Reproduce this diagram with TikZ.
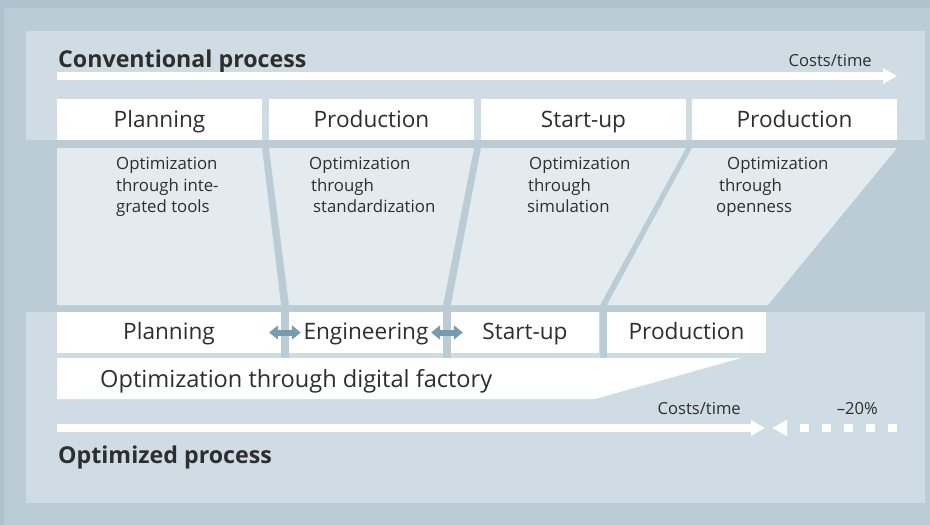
\documentclass[tikz,border=0pt]{standalone}
\usepackage{fontspec}
\setmainfont{Open Sans}
\usetikzlibrary{arrows.meta}

\definecolor{frameblue}{HTML}{AFC3CE}
\definecolor{bandblue}{HTML}{BBCCD6}
\definecolor{panelblue}{HTML}{CFDCE3}
\definecolor{colblue}{HTML}{E3EBEF}
\definecolor{steelblue}{HTML}{7A9BAE}
\definecolor{inktext}{HTML}{2E2E2E}

\tikzset{
  stagebox/.style={fill=white, inner sep=0pt, minimum height=41pt,
    text height=19pt, text depth=3pt,
    text=inktext, font=\fontsize{22.6}{26}\selectfont},
  coltext/.style={anchor=north west, inner sep=0pt, align=left,
    text=inktext, font=\fontsize{16.8}{21.5}\selectfont},
  smalltext/.style={inner sep=0pt, text=inktext, font=\fontsize{16.6}{20}\selectfont},
  headtext/.style={anchor=base west, inner sep=0pt, text=inktext,
    font=\fontsize{23.2}{26}\selectfont\bfseries},
  costarrow/.style={white, line width=8pt, -{Triangle[length=14pt,width=15pt]}},
  linkarrow/.style={steelblue, line width=6pt,
    {Triangle[length=9pt,width=14pt]}-{Triangle[length=9pt,width=14pt]}}
}

\begin{document}
\begin{tikzpicture}[x=1pt,y=-1pt]
    \useasboundingbox (0,0) rectangle (930,525);
    % background and the two panels
    \fill[bandblue] (0,0) rectangle (930,525);
    \fill[frameblue] (0,0) rectangle (930,8);
    \fill[frameblue] (0,0) rectangle (4,525);
    \fill[panelblue] (26,31) rectangle (925,140);
    \fill[panelblue] (26,312) rectangle (925,503);

    % slanted columns of the conventional process
    \fill[colblue] (57,148) -- (262,148) -- (281,305) -- (57,305) -- cycle;
    \fill[colblue] (269,148) -- (474,148) -- (443,305) -- (289,305) -- cycle;
    \fill[colblue] (481,148) -- (686,148) -- (600,305) -- (451,305) -- cycle;
    \fill[colblue] (692,148) -- (897,148) -- (768,305) -- (607,305) -- cycle;
    % gaps running down into the optimized row
    \fill[bandblue] (281,305) rectangle (289,358);
    \fill[bandblue] (443,305) rectangle (451,358);
    \fill[bandblue] (600,305) rectangle (607,358);

    % conventional process
    \node[headtext] (convtitle) at (58,67) {Conventional process};
    \node[smalltext, anchor=base east] (convcost) at (872,66) {Costs/time};
    \coordinate (convstart) at (57,76);
    \coordinate (convend) at (897,76);
    \draw[costarrow] (convstart) -- (convend);

    \foreach \i/\cx/\txt in {1/159.5/Planning, 2/371.5/Production, 3/583.5/Start-up, 4/794.5/Production}
    \node[stagebox, minimum width=205pt] (top\i) at (\cx,119.5) {\txt};

    \node[coltext] (opt1) at (116,157) {Optimization\\through inte-\\grated tools};
    \node[coltext] (opt2) at (309,157) {Optimization\\\hspace*{2pt}through\\\hspace*{4pt}standardization};
    \node[coltext] (opt3) at (527,157) {\hspace*{2pt}Optimization\\\hspace*{1pt}through\\simulation};
    \node[coltext] (opt4) at (716,157) {\hspace*{11pt}Optimization\\\hspace*{3pt}through\\openness};

    % optimized process
    \node[stagebox, minimum width=224pt, text height=17pt] (low1) at (169,332.5) {Planning};
    \node[stagebox, minimum width=154pt, text height=17pt] (low2) at (366,332.5) {Engineering};
    \node[stagebox, minimum width=148pt, text height=17pt] (low3) at (525,332.5) {Start-up};
    \node[stagebox, minimum width=159pt, text height=17pt] (low4) at (686.5,332.5) {Production};

    \draw[linkarrow] ([xshift=-12pt]low1.east) -- ([xshift=12pt]low2.west);
    \draw[linkarrow] ([xshift=-12pt]low2.east) -- ([xshift=12pt]low3.west);

    \fill[white] (57,358) -- (741,358) -- (595,399) -- (57,399) -- cycle;
    \node[stagebox, fill=none, minimum height=0pt, anchor=base west, font=\fontsize{23.6}{26}\selectfont]
      (digital) at (100,387) {Optimization through digital factory};

    \node[smalltext, anchor=base east] (optcost) at (741,414) {Costs/time};
    \node[smalltext, anchor=base east] (saving) at (878,414) {--20\%};
    \coordinate (optstart) at (57,428);
    \coordinate (optend) at (765,428);
    \coordinate (savestart) at (897,428);
    \coordinate (saveend) at (772,428);
    \draw[costarrow] (optstart) -- (optend);
    \draw[white, line width=8pt, dash pattern=on 9pt off 13pt,
      -{Triangle[length=15pt,width=15pt]}] (savestart) -- (saveend);

    \node[headtext] (opttitle) at (58,463) {Optimized process};
\end{tikzpicture}
\end{document}
